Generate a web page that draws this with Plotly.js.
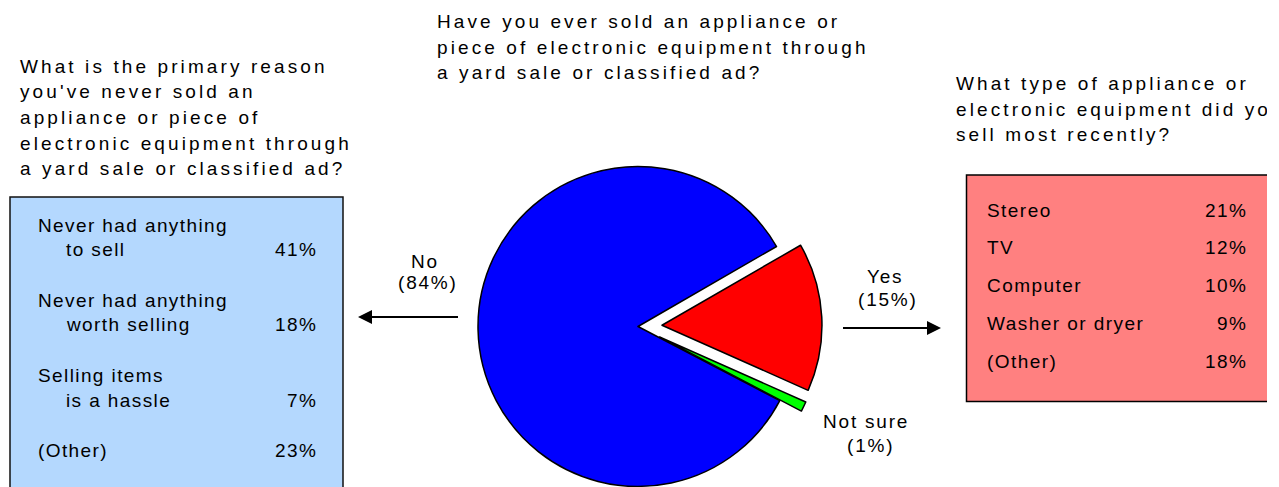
<!DOCTYPE html>
<html>
<head>
<meta charset="utf-8">
<script src="https://cdn.plot.ly/plotly-3.0.1.min.js"></script>
<style>
  html, body { margin: 0; padding: 0; background: #ffffff; overflow: hidden; }
  #chart { width: 1267px; height: 560px; }
</style>
</head>
<body>
<div id="chart"></div>
<script>
// ---------------- data ----------------
const pieLabels = ['Yes', 'Not sure', 'No'];
const pieValues = [15, 1, 84];

const centerTitle = ['Have you ever sold an appliance or', 'piece of electronic equipment through', 'a yard sale or classified ad?'];
const leftTitle = ['What is the primary reason', "you've never sold an", 'appliance or piece of', 'electronic equipment through', 'a yard sale or classified ad?'];
const rightTitle = ['What type of appliance or', 'electronic equipment did you', 'sell most recently?'];

const reasonLabels = [['Never had anything', 'to sell'], ['Never had anything', 'worth selling'], ['Selling items', 'is a hassle'], ['(Other)']];
const reasonValues = [41, 18, 7, 23];

const typeLabels = ['Stereo', 'TV', 'Computer', 'Washer or dryer', '(Other)'];
const typeValues = [21, 12, 10, 9, 18];

// ---------------- layout helpers ----------------
const W = 1267, H = 560;
const px = x => x / W;
const py = y => 1 - y / H;
const FONT = 'Liberation Sans, Arial, sans-serif';

function ann(text, x, y, xanchor, spacing) {
  return {
    text: '<span style="letter-spacing:' + spacing + 'px">' + text + '</span>',
    x: px(x), y: py(y), xref: 'paper', yref: 'paper',
    xanchor: xanchor, yanchor: 'middle', showarrow: false,
    borderpad: 0, borderwidth: 0,
    font: { family: FONT, size: 19, color: '#000000' }
  };
}

const annotations = [];
// question titles
centerTitle.forEach((t, i) => annotations.push(ann(t, 437, 22 + i * 25.5, 'left', 3.1)));
leftTitle.forEach((t, i) => annotations.push(ann(t, 20, 66.5 + i * 25.5, 'left', 3.1)));
rightTitle.forEach((t, i) => annotations.push(ann(t, 955.5, 83.7 + i * 25.5, 'left', 3.1)));

// left box: reasons
const reasonY = [225.3, 300.3, 375.8, 450];
reasonLabels.forEach((lines, i) => {
  lines.forEach((t, j) => {
    annotations.push(ann(t, j === 0 ? 38 : 66, reasonY[i] + j * 24.5, 'left', 1.4));
  });
  const lastY = reasonY[i] + (lines.length - 1) * 24.5;
  annotations.push(ann(reasonValues[i] + '%', 316.5, lastY, 'right', 1.4));
});

// right box: types
typeLabels.forEach((t, i) => {
  const y = 210 + i * 37.9;
  annotations.push(ann(t, 987, y, 'left', 1.45));
  annotations.push(ann(typeValues[i] + '%', 1247, y, 'right', 1.45));
});

// pie labels (same order as pieLabels)
const pieLabelPos = [
  { x1: 884.5, y1: 276, x2: 888, y2: 299.5 },
  { x1: 866, y1: 421, x2: 870, y2: 446 },
  { x1: 425, y1: 261.7, x2: 427.5, y2: 282.5 }
];
pieLabels.forEach((lab, i) => {
  const p = pieLabelPos[i];
  annotations.push(ann(lab, p.x1, p.y1, 'center', 1.8));
  annotations.push(ann('(' + pieValues[i] + '%)', p.x2, p.y2, 'center', 1.8));
});

// arrows
function arrow(tipX, tipY, tailX, tailY) {
  return {
    text: '', x: px(tipX), y: py(tipY), xref: 'paper', yref: 'paper',
    ax: tailX - tipX, ay: tailY - tipY, axref: 'pixel', ayref: 'pixel',
    showarrow: true, arrowhead: 2, arrowsize: 1.4, arrowwidth: 2, arrowcolor: '#000000',
    borderpad: 0, borderwidth: 0, standoff: 0
  };
}
annotations.push(arrow(358, 317, 458, 317));
annotations.push(arrow(941, 328, 843, 328));

const shapes = [
  { type: 'rect', xref: 'paper', yref: 'paper', layer: 'below',
    x0: px(10), x1: px(343), y0: py(600), y1: py(197),
    fillcolor: '#B4D8FE', line: { color: '#111111', width: 1.5 } },
  { type: 'rect', xref: 'paper', yref: 'paper', layer: 'below',
    x0: px(966.5), x1: px(1290), y0: py(401.5), y1: py(175),
    fillcolor: '#FF8080', line: { color: '#000000', width: 1.5 } }
];

const pieR = 160, pull = 0.15, cx = 638, cy = 326.5;
const half = pieR * (1 + pull);

const data = [{
  type: 'pie',
  labels: pieLabels,
  values: pieValues,
  sort: false,
  direction: 'clockwise',
  rotation: 60,
  pull: [pull, pull, 0],
  marker: { colors: ['#FF0000', '#00FF00', '#0000FF'], line: { color: '#000000', width: 1.5 } },
  textinfo: 'none',
  hoverinfo: 'none',
  domain: { x: [px(cx - half), px(cx + half)], y: [py(cy + half), py(cy - half)] }
}];

const layout = {
  width: W, height: H,
  margin: { l: 0, r: 0, t: 0, b: 0, pad: 0 },
  paper_bgcolor: '#ffffff',
  plot_bgcolor: '#ffffff',
  showlegend: false,
  font: { family: FONT, size: 19, color: '#000000' },
  annotations: annotations,
  shapes: shapes
};

Plotly.newPlot('chart', data, layout, { staticPlot: true, displayModeBar: false });
</script>
</body>
</html>
